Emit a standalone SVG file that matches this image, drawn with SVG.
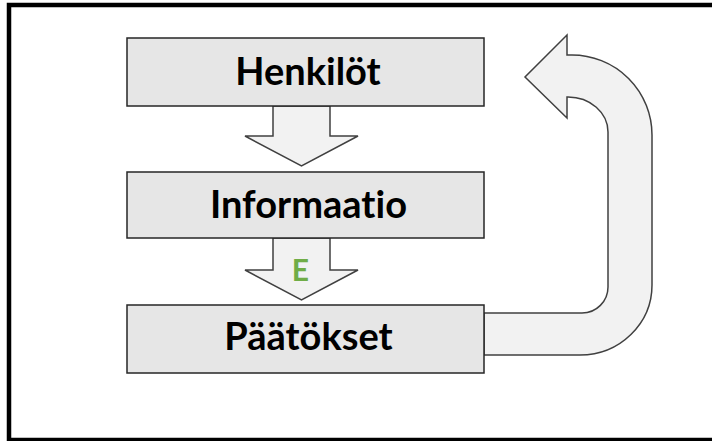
<svg xmlns="http://www.w3.org/2000/svg" width="712" height="441" viewBox="0 0 712 441">
<style>
.box{fill:#E6E6E6;stroke:#262626;stroke-width:1.5}
.arr{fill:#F2F2F2;stroke:#404040;stroke-width:1.5;stroke-linejoin:miter}
.lbl{font-family:Lato,"Open Sans",sans-serif;font-weight:bold;font-size:38px;fill:#000;text-anchor:middle;font-variant-ligatures:none}
.e{font-family:Lato,"Open Sans",sans-serif;font-weight:bold;font-size:30px;fill:#70AD47;text-anchor:middle}
</style>
<rect x="0" y="0" width="712" height="441" fill="#fff"/>
<rect x="9" y="5" width="720" height="435" fill="none" stroke="#000" stroke-width="4.5"/>
<g id="connectors">
<polygon class="arr" points="273,106 330,106 330,136 358,136 301.5,166 245,136 273,136"/>
<polygon class="arr" points="273,238 330,238 330,270 358,270 301.5,300 245,270 273,270"/>
<text class="e" x="300.5" y="281">E</text>
<path class="arr" d="M484,313 L582,313 A26,26 0 0 0 608,287 L608,132 A40,35 0 0 0 568,97 L567,97 L567,118 L525,77 L567,35 L567,55 L572,55 A80,80 0 0 1 652,135 L652,285 A72,70 0 0 1 580,355 L484,355 Z"/>
</g>
<g id="henkilot">
<rect class="box" x="127" y="38" width="357" height="68"/>
<text class="lbl" x="308" y="85">Henkilöt</text>
</g>
<g id="informaatio">
<rect class="box" x="127" y="172" width="357" height="66"/>
<text class="lbl" x="308.5" y="218">Informaatio</text>
</g>
<g id="paatokset">
<rect class="box" x="127" y="305" width="357" height="68"/>
<text class="lbl" x="308.5" y="350">Päätökset</text>
</g>
</svg>
